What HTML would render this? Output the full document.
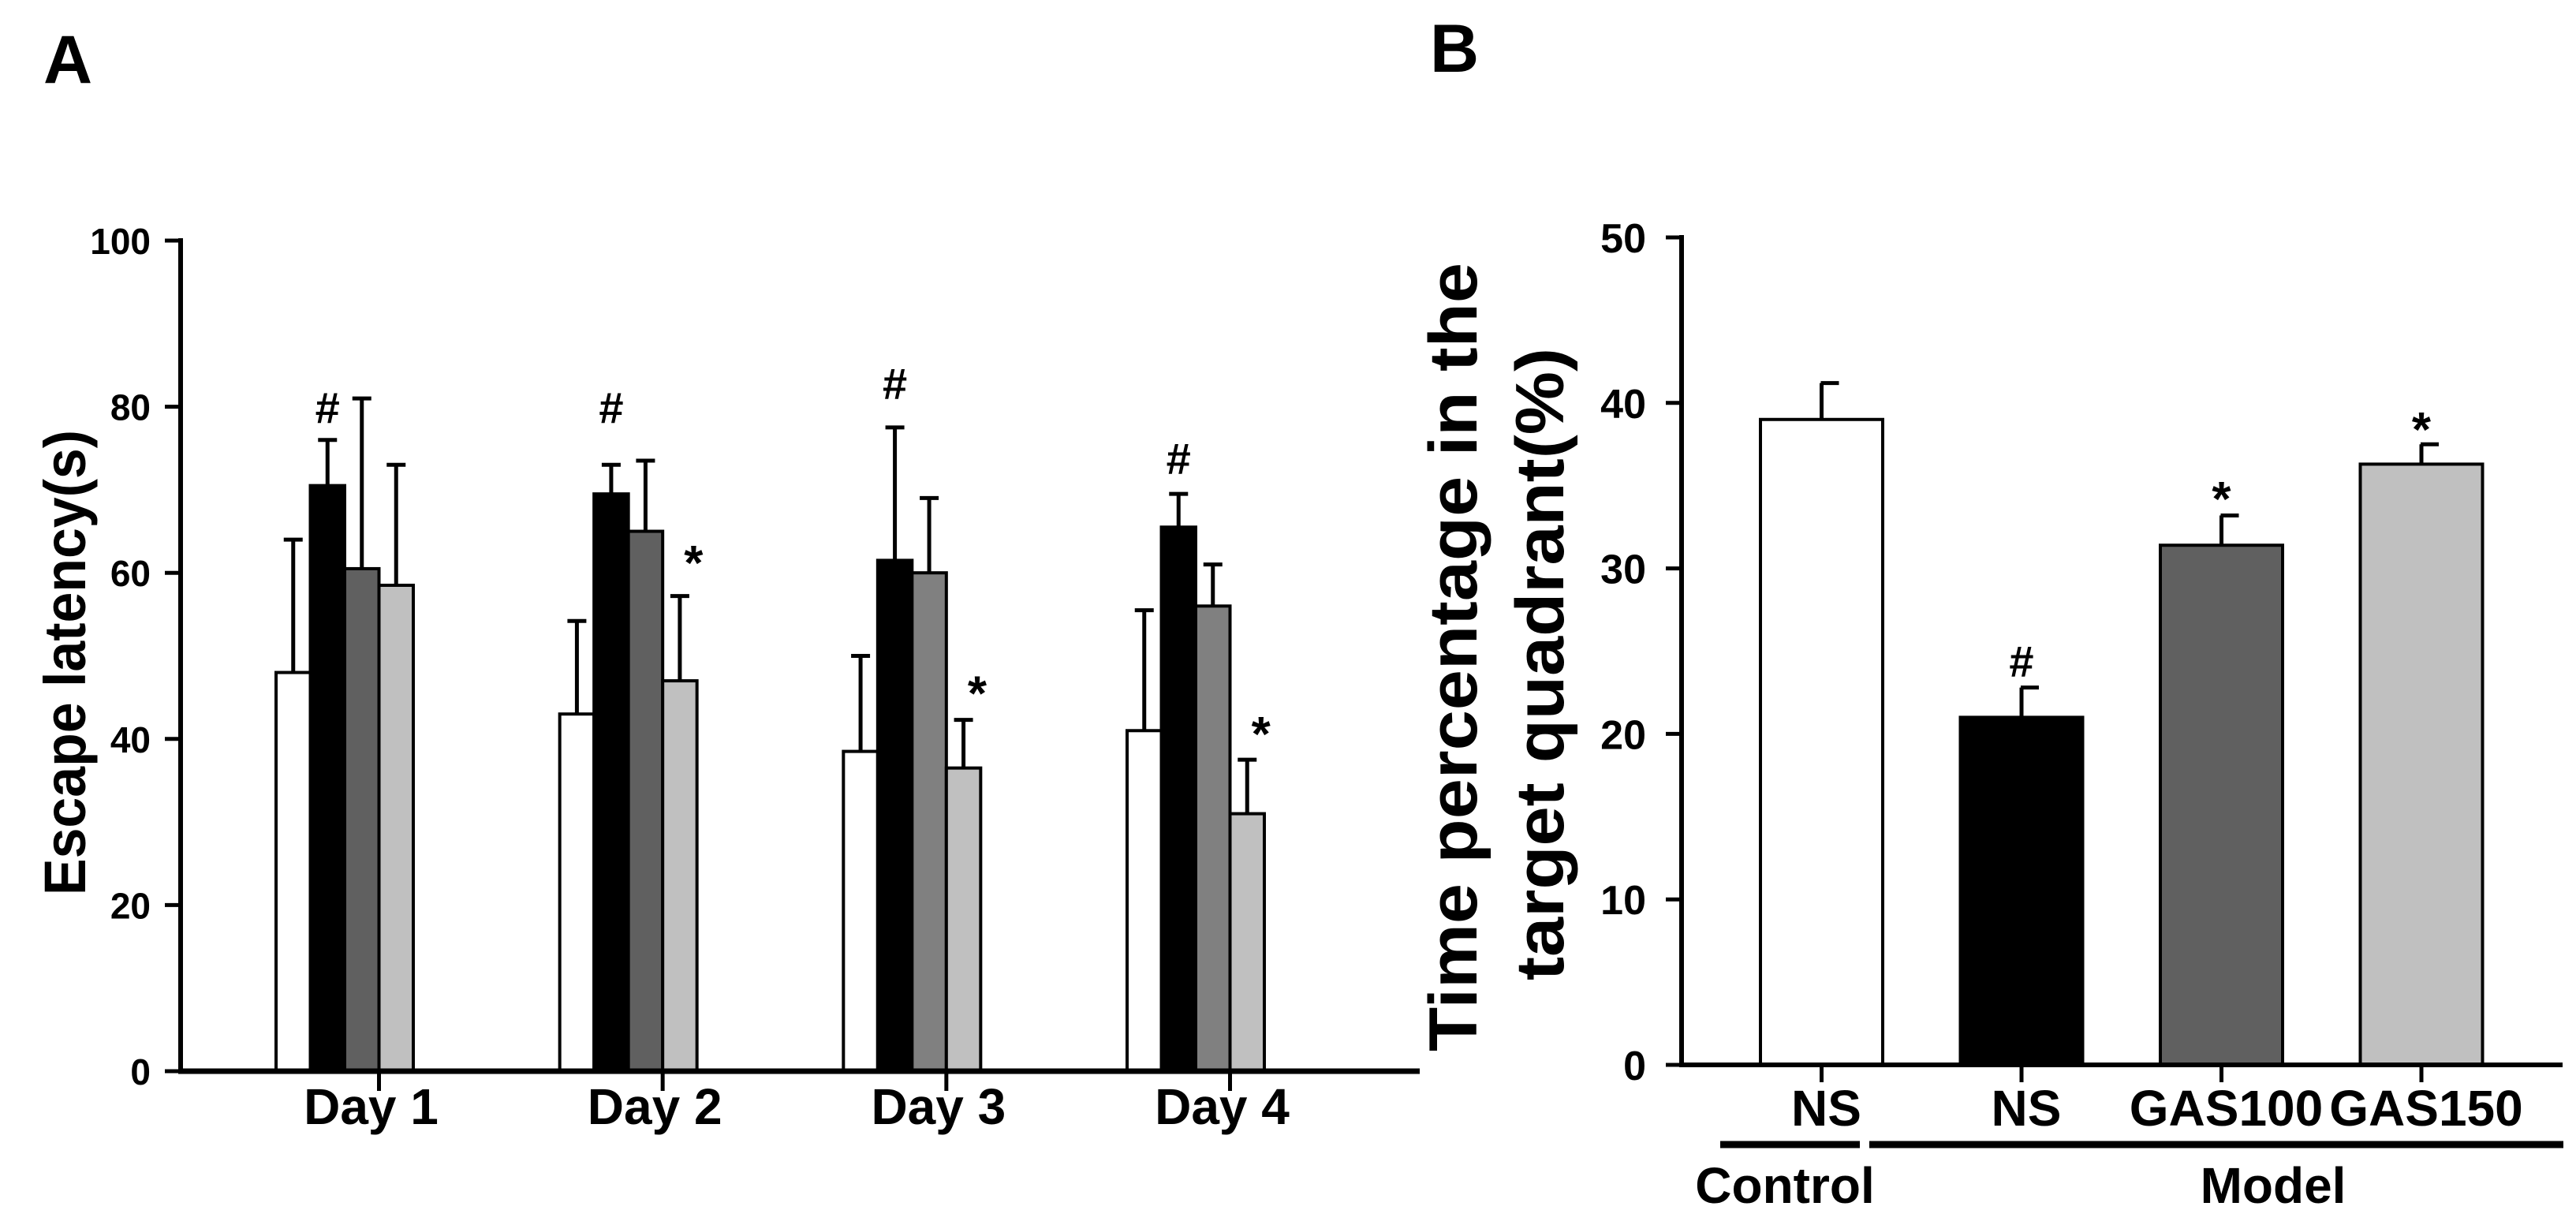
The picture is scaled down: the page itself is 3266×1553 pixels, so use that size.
<!DOCTYPE html>
<html><head><meta charset="utf-8"><style>
html,body{margin:0;padding:0;background:#fff;}
svg{display:block;font-family:"Liberation Sans",Arial,sans-serif;}
</style></head><body>
<svg id="fig" width="3266" height="1553" viewBox="0 0 3266 1553" xmlns="http://www.w3.org/2000/svg">
<rect width="3266" height="1553" fill="#fff"/>
<text x="55" y="105" font-size="86" font-weight="bold">A</text>
<text x="1813" y="91" font-size="86" font-weight="bold">B</text>
<text transform="translate(108,840) rotate(-90)" text-anchor="middle" font-size="74" font-weight="bold" textLength="590" lengthAdjust="spacingAndGlyphs">Escape latency(s)</text>
<text transform="translate(1872,833) rotate(-90)" text-anchor="middle" font-size="86" font-weight="bold" textLength="1000" lengthAdjust="spacingAndGlyphs">Time percentage in the</text>
<text transform="translate(1982,842) rotate(-90)" text-anchor="middle" font-size="86" font-weight="bold" textLength="802" lengthAdjust="spacingAndGlyphs">target quadrant(%)</text>
<g id="chartA"></g>
<g id="chartB"></g>
</svg>
<script>
// ---- Panel A data ----
const daysA = ["Day 1","Day 2","Day 3","Day 4"];
const controlNS = [48, 43, 38.5, 41];
const modelNS = [70.5, 69.5, 61.5, 65.5];
const gas100A = [60.5, 65, 60, 56];
const gas150A = [58.5, 47, 36.5, 31];
const controlNSErr = [16, 11.2, 11.5, 14.5];
const modelNSErr = [5.5, 3.5, 16, 4];
const gas100AErr = [20.5, 8.5, 9, 5];
const gas150AErr = [14.5, 10.2, 5.8, 6.5];
const hashA = [80.1, 80.1, 83, 74];
const starA = [null, 62, 46.3, 41.4];
const ticksA = [0, 20, 40, 60, 80, 100];
// ---- Panel B data ----
const groupsB = ["NS","NS","GAS100","GAS150"];
const valuesB = [39, 21, 31.4, 36.3];
const errB = [2.2, 1.8, 1.8, 1.2];
const markB = ["", "#", "*", "*"];
const markPosB = [null, 24.5, 34.6, 38.8];
const ticksB = [0, 10, 20, 30, 40, 50];

const NS = "http://www.w3.org/2000/svg";
function mk(parent, tag, attrs, text){
  const e = document.createElementNS(NS, tag);
  for (const k in attrs) e.setAttribute(k, attrs[k]);
  if (text !== undefined) e.textContent = text;
  parent.appendChild(e);
  return e;
}
const FONT = "'Liberation Sans', Arial, sans-serif";

// ---------- Panel A ----------
const gA = document.getElementById('chartA');
const A = {x0: 229, y0: 1358, y100: 305, xEnd: 1800, bw: 43.5, groupStart: [350, 710, 1066, 1429]};
function yA(v){ return A.y0 - (v/100)*(A.y0 - A.y100); }
function groupX(i){ return A.groupStart[0] + i*((A.groupStart[3]-A.groupStart[0])/3); }
const seriesA = [controlNS, modelNS, gas100A, gas150A];
const errsA = [controlNSErr, modelNSErr, gas100AErr, gas150AErr];
const namesA = ["control-ns","model-ns","gas100","gas150"];
const fillsA = ["#ffffff","#000000",["#606060","#606060","#808080","#808080"],"#c0c0c0"];

ticksA.forEach(t => {
  const y = yA(t);
  const tk = mk(gA, 'line', {x1: A.x0-20, x2: A.x0, y1: y, y2: y, stroke: '#000', 'stroke-width': 5});
  
  
  const lb = mk(gA, 'text', {x: A.x0-38, y: y+17, 'text-anchor': 'end', 'font-size': 46, 'font-family': FONT, 'font-weight': 'bold'}, String(t));
  
  
});
daysA.forEach((d, i) => {
  const gx = groupX(i);
  seriesA.forEach((s, j) => {
    const x = gx + j*A.bw;
    const v = s[i];
    const cx = x + A.bw/2;
    const top = yA(v + errsA[j][i]);
    const el = mk(gA, 'line', {x1: cx, x2: cx, y1: yA(v), y2: top, stroke: '#000', 'stroke-width': 5});
    
    
    const cap = mk(gA, 'line', {x1: cx-12, x2: cx+12, y1: top, y2: top, stroke: '#000', 'stroke-width': 5});
    
    
  });
  seriesA.forEach((s, j) => {
    const x = gx + j*A.bw;
    const v = s[i];
    const fill = Array.isArray(fillsA[j]) ? fillsA[j][i] : fillsA[j];
    const r = mk(gA, 'rect', {x: x, y: yA(v), width: A.bw, height: A.y0 - yA(v), fill: fill, stroke: '#000', 'stroke-width': 4});
    
    
  });
  const tx = gx + 3*A.bw;
  const tk = mk(gA, 'line', {x1: tx, x2: tx, y1: A.y0, y2: A.y0+25, stroke: '#000', 'stroke-width': 5});
  
  
  const lb = mk(gA, 'text', {x: tx-10, y: 1425, 'text-anchor': 'middle', 'font-size': 64, 'font-weight': 'bold', 'font-family': FONT}, d);
  
  
  const h = mk(gA, 'text', {x: gx + 1.5*A.bw, y: yA(hashA[i]) + 22, 'text-anchor': 'middle', 'font-size': 56, 'font-weight': 'bold', 'font-family': FONT}, '#');
  
  
  if (starA[i] !== null) {
    const st = mk(gA, 'text', {x: gx + 3.9*A.bw, y: yA(starA[i]) + 30, 'text-anchor': 'middle', 'font-size': 62, 'font-weight': 'bold', 'font-family': FONT}, '*');
    
    
  }
});
const axA1 = mk(gA, 'line', {x1: A.x0, x2: A.x0, y1: A.y100-3, y2: A.y0+3, stroke: '#000', 'stroke-width': 6});


const axA2 = mk(gA, 'line', {x1: A.x0-3, x2: A.xEnd, y1: A.y0, y2: A.y0, stroke: '#000', 'stroke-width': 7});



// ---------- Panel B ----------
const gB = document.getElementById('chartB');
const B = {x0: 2132, y0: 1350, y50: 301, xEnd: 3249, bw: 155, start: 2232, step: 253.5};
function yB(v){ return B.y0 - (v/50)*(B.y0 - B.y50); }
const fillsB = ["#ffffff","#000000","#606060","#c0c0c0"];
ticksB.forEach(t => {
  const y = yB(t);
  const tk = mk(gB, 'line', {x1: B.x0-20, x2: B.x0, y1: y, y2: y, stroke: '#000', 'stroke-width': 5});
  
  
  const lb = mk(gB, 'text', {x: B.x0-45, y: y+19, 'text-anchor': 'end', 'font-size': 52, 'font-weight': 'bold', 'font-family': FONT}, String(t));
  
  
});
groupsB.forEach((g, i) => {
  const x = B.start + i*B.step;
  const cx = x + B.bw/2;
  const v = valuesB[i];
  const top = yB(v + errB[i]);
  const e = mk(gB, 'line', {x1: cx, x2: cx, y1: yB(v), y2: top, stroke: '#000', 'stroke-width': 5});
  
  
  const cap = mk(gB, 'line', {x1: cx-1, x2: cx+22, y1: top, y2: top, stroke: '#000', 'stroke-width': 5});
  
  
  const r = mk(gB, 'rect', {x: x, y: yB(v), width: B.bw, height: B.y0 - yB(v), fill: fillsB[i], stroke: '#000', 'stroke-width': 4});
  
  
  const tk = mk(gB, 'line', {x1: cx, x2: cx, y1: B.y0, y2: B.y0+22, stroke: '#000', 'stroke-width': 5});
  
  
  const lb = mk(gB, 'text', {x: cx+6, y: 1427, 'text-anchor': 'middle', 'font-size': 64, 'font-weight': 'bold', 'font-family': FONT}, g);
  
  
  if (markPosB[i] !== null) {
    const m = mk(gB, 'text', {x: cx, y: yB(markPosB[i]) + (markB[i] === '#' ? 22 : 30), 'text-anchor': 'middle', 'font-size': markB[i] === '#' ? 56 : 62, 'font-weight': 'bold', 'font-family': FONT}, markB[i]);
    
    
  }
});
const axB1 = mk(gB, 'line', {x1: B.x0, x2: B.x0, y1: B.y50-3, y2: B.y0+3, stroke: '#000', 'stroke-width': 6});


const axB2 = mk(gB, 'line', {x1: B.x0-3, x2: B.xEnd, y1: B.y0, y2: B.y0, stroke: '#000', 'stroke-width': 6});


const ctlLine = mk(gB, 'line', {x1: 2181, x2: 2358, y1: 1451, y2: 1451, stroke: '#000', 'stroke-width': 9});


const modLine = mk(gB, 'line', {x1: 2370, x2: 3250, y1: 1451, y2: 1451, stroke: '#000', 'stroke-width': 9});


const ctlText = mk(gB, 'text', {x: 2263, y: 1525, 'text-anchor': 'middle', 'font-size': 64, 'font-weight': 'bold', 'font-family': FONT}, 'Control');


const modText = mk(gB, 'text', {x: 2882, y: 1525, 'text-anchor': 'middle', 'font-size': 64, 'font-weight': 'bold', 'font-family': FONT}, 'Model');


</script>
</body></html>
